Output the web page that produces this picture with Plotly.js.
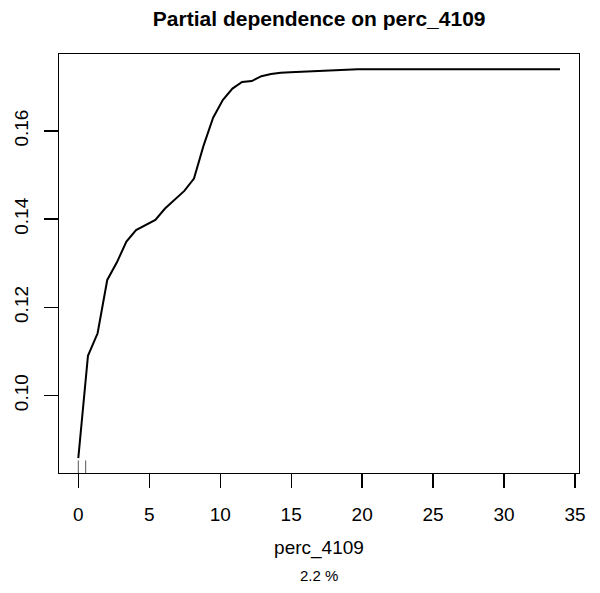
<!DOCTYPE html>
<html>
<head>
<meta charset="utf-8">
<script src="https://cdn.plot.ly/plotly-3.0.1.min.js"></script>
<style>html,body{margin:0;padding:0;background:#fff;}#chart{width:600px;height:593px;}</style>
</head>
<body>
<div id="chart"></div>
<script>
// Partial dependence grid (x) and values (y)
const gridX = [0, 0.68, 1.36, 2.04, 2.72, 3.39, 4.07, 4.75, 5.43, 6.11,
  6.79, 7.47, 8.15, 8.82, 9.50, 10.18, 10.86, 11.54, 12.22, 12.90,
  13.58, 14.26, 14.94, 15.61, 16.29, 16.97, 17.65, 18.33, 19.01, 19.69,
  20.37, 21.05, 21.72, 22.40, 23.08, 23.76, 24.44, 25.12, 25.80, 26.47,
  27.15, 27.83, 28.51, 29.19, 29.87, 30.55, 31.23, 31.90, 32.58, 33.26, 33.94];
const pdY = [0.0858, 0.1090, 0.1141, 0.1262, 0.1302, 0.1349, 0.1375, 0.1386, 0.1398, 0.1424,
  0.1443, 0.1464, 0.1492, 0.1566, 0.1630, 0.1670, 0.1696, 0.1711, 0.1713, 0.1724,
  0.1729, 0.1732, 0.1733, 0.1734, 0.1736, 0.1737, 0.1738, 0.1739, 0.1739, 0.1740,
  0.1740, 0.1740, 0.1740, 0.1740, 0.1740, 0.1740, 0.1740, 0.1740, 0.1740, 0.1740,
  0.1740, 0.1740, 0.1740, 0.1740, 0.1740, 0.1740, 0.1740, 0.1740, 0.1740, 0.1740, 0.1740];
// rug positions (deciles of the variable)
const rugX = [0, 0.52];
const xTicks = [0, 5, 10, 15, 20, 25, 30, 35];
const yTicks = [0.10, 0.12, 0.14, 0.16];
const xTitle = 'perc_4109';
const subTitle = '2.2 %';
const mainTitle = 'Partial dependence on perc_4109';

const xRange = [-1.36, 35.28];
const yRange = [0.08242, 0.17744];
const rugLen = 0.00285;

const rugXs = [], rugYs = [];
rugX.forEach(v => { rugXs.push(v, v, null); rugYs.push(yRange[0], yRange[0] + rugLen, null); });

const font = 'Liberation Sans, Arial, sans-serif';
const data = [
  {x: gridX, y: pdY, type: 'scatter', mode: 'lines', line: {color: '#000', width: 2}, hoverinfo: 'skip'},
  {x: rugXs, y: rugYs, type: 'scatter', mode: 'lines', line: {color: '#555', width: 1}, hoverinfo: 'skip'}
];
const layout = {
  width: 600, height: 593,
  margin: {l: 59, r: 21, t: 54, b: 120, pad: 0},
  paper_bgcolor: '#fff', plot_bgcolor: '#fff',
  showlegend: false,
  font: {family: font, color: '#000'},
  title: {text: '<b>' + mainTitle + '</b>', font: {family: font, size: 21, color: '#000'}, x: 0.532, xanchor: 'center', y: 0.968, yanchor: 'middle'},
  xaxis: {
    range: xRange, tickmode: 'array', tickvals: xTicks, ticktext: xTicks.map(String),
    showgrid: false, zeroline: false, showline: true, mirror: true, linecolor: '#000', linewidth: 1.3,
    ticks: 'outside', ticklen: 14, tickwidth: 1.3, tickcolor: '#000',
    tickfont: {family: font, size: 19, color: '#000'}, ticklabelstandoff: 10,
    title: {text: xTitle, font: {family: font, size: 19, color: '#000'}, standoff: 16}
  },
  yaxis: {
    range: yRange, tickmode: 'array', tickvals: yTicks, ticktext: yTicks.map(v => v.toFixed(2)),
    showgrid: false, zeroline: false, showline: true, mirror: true, linecolor: '#000', linewidth: 1.3,
    ticks: 'outside', ticklen: 14, tickwidth: 1.3, tickcolor: '#000', tickangle: -90,
    tickfont: {family: font, size: 19, color: '#000'}, ticklabelstandoff: 8
  },
  annotations: [
    {text: subTitle, xref: 'paper', yref: 'paper', x: 0.5, y: -0.245, xanchor: 'center', yanchor: 'middle', showarrow: false, font: {family: font, size: 15, color: '#000'}}
  ]
};
Plotly.newPlot('chart', data, layout, {displayModeBar: false, staticPlot: true});
</script>
</body>
</html>
